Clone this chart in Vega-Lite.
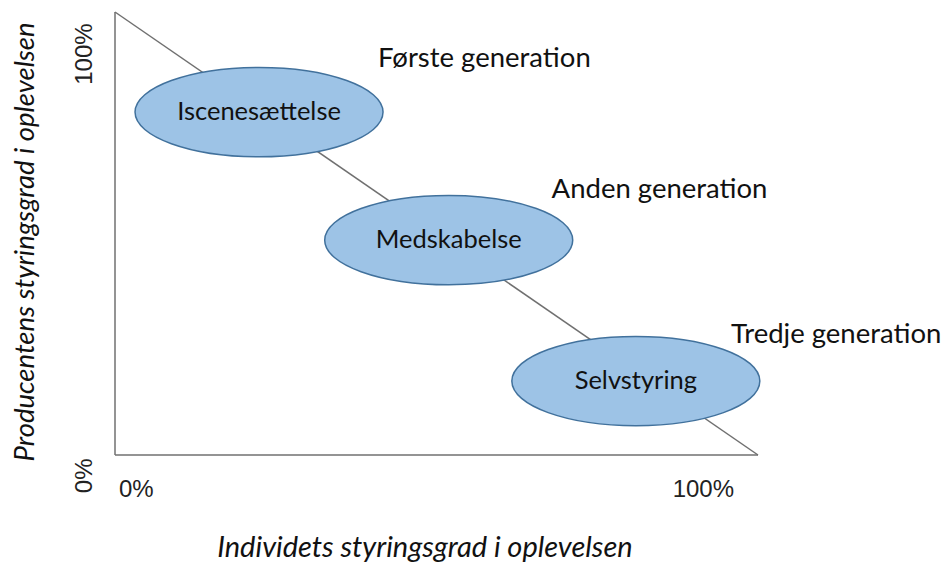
{
  "$schema": "https://vega.github.io/schema/vega-lite/v6.json",
  "width": 643,
  "height": 443,
  "autosize": {"type": "none"},
  "padding": {"left": 115, "top": 12, "right": 193, "bottom": 110},
  "background": "white",
  "config": {"view": {"stroke": null}},
  "datasets": {
    "lines": [
      {"x": 0, "y": 0, "x2": 0, "y2": 100},
      {"x": 0, "y": 0, "x2": 100, "y2": 0},
      {"x": 0, "y": 100, "x2": 100, "y2": 0}
    ],
    "ellipses": [
      {"x": 22.4, "y": 77.4, "label": "Iscenesættelse"},
      {"x": 51.9, "y": 48.5, "label": "Medskabelse"},
      {"x": 81.0, "y": 16.7, "label": "Selvstyring"}
    ],
    "labels": [
      {"x": 40.9, "y": 87.6, "text": "Første generation", "kind": "gen"},
      {"x": 67.9, "y": 58.0, "text": "Anden generation", "kind": "gen"},
      {"x": 95.8, "y": 25.3, "text": "Tredje generation", "kind": "gen"},
      {"x": 3.3, "y": -8.0, "text": "0%", "kind": "xtick"},
      {"x": 91.5, "y": -8.0, "text": "100%", "kind": "xtick"},
      {"x": -4.7, "y": 90.5, "text": "100%", "kind": "ytick"},
      {"x": -4.7, "y": -4.7, "text": "0%", "kind": "ytick"},
      {"x": 48.2, "y": -21.0, "text": "Individets styringsgrad i oplevelsen", "kind": "xtitle"},
      {"x": -13.8, "y": 48.1, "text": "Producentens  styringsgrad i oplevelsen", "kind": "ytitle"}
    ]
  },
  "encoding": {
    "x": {"field": "x", "type": "quantitative", "scale": {"domain": [0, 100], "nice": false, "zero": false}, "axis": null},
    "y": {"field": "y", "type": "quantitative", "scale": {"domain": [0, 100], "nice": false, "zero": false}, "axis": null}
  },
  "layer": [
    {
      "data": {"name": "lines"},
      "mark": {"type": "rule", "color": "#707070", "strokeWidth": 1.5},
      "encoding": {"x2": {"field": "x2"}, "y2": {"field": "y2"}}
    },
    {
      "data": {"name": "ellipses"},
      "mark": {
        "type": "point",
        "shape": "M -1 0 A 1 0.36 0 1 0 1 0 A 1 0.36 0 1 0 -1 0 Z",
        "size": 61504,
        "filled": true,
        "fill": "#9DC3E6",
        "fillOpacity": 1,
        "stroke": "#41719C",
        "strokeWidth": 1.5,
        "opacity": 1
      }
    },
    {
      "data": {"name": "ellipses"},
      "mark": {"type": "text", "font": "Lato", "fontSize": 25.5, "color": "#111111", "align": "center", "baseline": "middle"},
      "encoding": {"text": {"field": "label"}}
    },
    {
      "data": {"name": "labels"},
      "transform": [{"filter": "datum.kind === 'gen'"}],
      "mark": {"type": "text", "font": "Lato", "fontSize": 27.5, "color": "#111111", "align": "left", "baseline": "alphabetic"},
      "encoding": {"text": {"field": "text"}}
    },
    {
      "data": {"name": "labels"},
      "transform": [{"filter": "datum.kind === 'xtick'"}],
      "mark": {"type": "text", "font": "Liberation Sans", "fontSize": 24, "color": "#222222", "align": "center", "baseline": "middle"},
      "encoding": {"text": {"field": "text"}}
    },
    {
      "data": {"name": "labels"},
      "transform": [{"filter": "datum.kind === 'ytick'"}],
      "mark": {"type": "text", "font": "Liberation Sans", "fontSize": 24, "color": "#222222", "align": "center", "baseline": "middle", "angle": 270},
      "encoding": {"text": {"field": "text"}}
    },
    {
      "data": {"name": "labels"},
      "transform": [{"filter": "datum.kind === 'xtitle'"}],
      "mark": {"type": "text", "font": "Lato", "fontSize": 29, "fontStyle": "italic", "color": "#111111", "align": "center", "baseline": "middle"},
      "encoding": {"text": {"field": "text"}}
    },
    {
      "data": {"name": "labels"},
      "transform": [{"filter": "datum.kind === 'ytitle'"}],
      "mark": {"type": "text", "font": "Lato", "fontSize": 27.5, "fontStyle": "italic", "color": "#111111", "align": "center", "baseline": "middle", "angle": 270},
      "encoding": {"text": {"field": "text"}}
    }
  ]
}
